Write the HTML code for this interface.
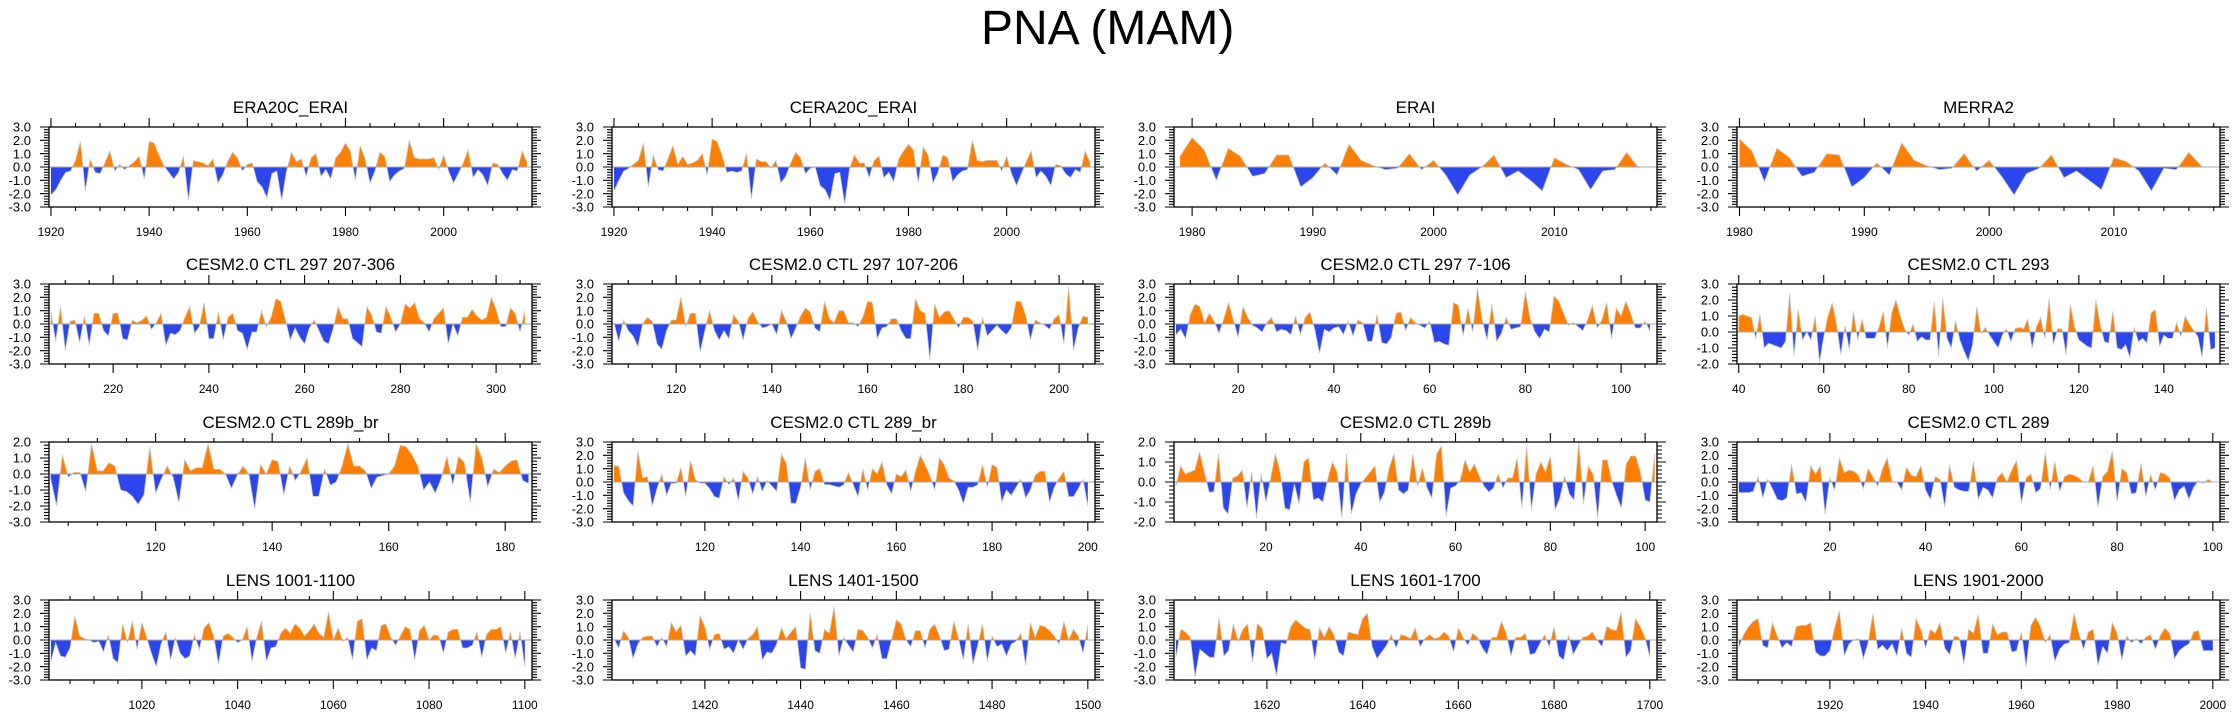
<!DOCTYPE html>
<html><head><meta charset="utf-8"><title>PNA (MAM)</title>
<style>
html,body{margin:0;padding:0;background:#fff;}
svg{display:block;font-family:"Liberation Sans",Arial,sans-serif;}
</style></head>
<body>
<svg id="chart" width="2238" height="718" viewBox="0 0 2238 718" xmlns="http://www.w3.org/2000/svg">
<rect width="2238" height="718" fill="#fff"/>
<text x="981" y="44" font-size="48" fill="#000">PNA (MAM)</text>
</svg>
<script>
const era20c=[-2.1,-1.7,-1.0,-0.4,-0.3,0.5,1.9,-1.8,0.6,-0.4,-0.5,0.3,1.2,-0.3,0.2,-0.2,0.1,0.4,0.8,-0.9,1.9,1.8,0.9,0.1,-0.4,-0.9,-0.4,0.8,-2.5,0.5,0.4,0.3,0.1,0.6,-1.2,-0.6,0.4,1.1,0.7,-0.3,0.2,0.3,-1.1,-1.5,-2.3,-0.5,-0.3,-2.5,-0.3,1.1,0.4,0.6,-0.7,0.7,1.0,-0.7,-0.2,-0.9,0.7,1.1,1.8,1.2,-1.0,1.6,0.6,-1.2,-0.3,1.1,0.8,-1.1,-0.6,-0.3,-0.1,2.0,0.7,0.6,0.6,0.6,0.7,-0.2,0.9,-0.3,-1.2,-0.5,0.3,1.3,-0.8,-0.2,-0.6,-1.4,0.3,0.2,-0.5,-1.0,-0.2,-0.3,1.2,0.3];
const cera20c=[-1.8,-1.0,-0.3,-0.1,0.2,0.5,1.8,-1.5,0.9,-0.2,-0.3,0.6,1.6,0.2,0.8,0.2,0.3,0.5,1.0,-0.6,2.1,1.9,0.9,-0.4,-0.3,-0.4,-0.3,1.0,-2.4,0.6,0.4,0.4,-0.1,0.5,-1.2,-0.7,0.3,1.1,0.7,-0.5,-0.1,0.0,-1.4,-1.7,-2.5,-0.5,-0.4,-2.8,-0.1,0.9,0.3,0.3,-0.8,0.5,0.8,-0.8,-0.4,-1.1,0.6,1.2,1.7,1.3,-1.2,1.5,0.9,-1.2,-0.4,0.9,0.7,-1.1,-0.6,-0.3,-0.2,2.0,0.5,0.4,0.5,0.5,0.5,-0.3,0.8,-0.5,-1.4,-0.5,0.4,1.2,-0.8,-0.3,-0.7,-1.4,0.2,0.1,-0.5,-0.8,-0.2,-0.4,1.2,0.3];
const erai=[0.8,2.2,1.3,-1.0,1.4,0.8,-0.7,-0.5,0.9,0.9,-1.5,-0.8,0.3,-0.6,1.7,0.5,0.1,-0.2,-0.1,1.0,-0.2,0.5,-0.6,-2.1,-0.6,0.0,0.9,-0.8,-0.3,-1.0,-1.8,0.7,0.2,-0.2,-1.7,-0.3,-0.2,1.1,-0.1];
const merra2=[2.1,1.2,-1.1,1.4,0.7,-0.7,-0.4,1.0,0.9,-1.5,-0.8,0.3,-0.6,1.8,0.5,0.1,-0.2,-0.1,1.0,-0.3,0.5,-0.7,-2.1,-0.5,-0.1,0.9,-0.8,-0.3,-1.0,-1.7,0.7,0.4,-0.3,-1.8,-0.1,-0.2,1.1,0.1];
const ctl297a=[0.9,-1.3,1.3,-2.0,0.2,0.3,-1.4,0.6,-1.6,0.8,0.8,-0.5,-0.9,0.8,0.8,-1.1,-1.2,0.3,0.1,0.3,0.6,-0.4,0.1,0.8,-1.6,-0.7,-0.8,-0.5,0.5,1.3,-0.7,-0.2,1.6,-1.1,-1.1,0.9,-1.2,0.5,0.8,-0.5,-0.7,-1.9,-0.6,-0.6,1.0,-0.2,0.5,1.9,1.7,0.3,-1.2,-0.3,-1.0,-1.5,-0.3,0.3,-0.5,-1.3,-1.5,-0.3,1.3,0.4,0.4,-1.1,-1.4,-1.7,1.3,0.7,-0.6,-0.7,1.3,0.5,-0.6,0.0,1.5,1.2,1.6,0.4,0.1,-0.6,0.4,0.8,1.2,-1.5,0.0,-0.9,0.5,0.5,1.1,0.6,0.3,0.5,2.0,1.1,-0.2,-0.2,1.2,0.8,-0.6,1.0];
const ctl297b=[0.1,-1.3,0.3,-0.5,-0.9,-1.7,0.0,0.5,0.2,-1.5,-1.9,-0.5,0.3,0.3,2.0,-0.2,0.8,0.8,-2.1,-0.5,1.0,-0.5,-1.2,-0.5,-1.1,0.7,0.2,-1.2,0.4,0.9,0.2,-0.3,-0.2,0.0,-0.8,1.0,0.2,-1.1,-0.3,0.6,1.2,0.9,-0.3,-0.6,1.7,0.4,0.1,1.0,1.0,0.1,0.1,-0.2,0.5,1.7,1.6,-1.1,-0.3,-0.2,0.4,0.4,-0.5,-1.1,-1.1,1.9,1.0,0.8,-2.7,1.5,0.5,0.9,1.0,0.4,-0.3,0.5,0.5,0.2,-2.0,0.5,-0.9,-0.5,-0.1,-0.5,-0.8,-0.3,1.7,1.7,0.7,-1.2,0.3,0.1,-0.1,-0.4,0.4,0.7,-1.5,2.8,-2.0,-0.3,0.6,0.5];
const ctl297c=[-0.8,-0.4,-1.1,0.7,1.5,1.3,0.1,0.8,0.2,-0.7,0.4,1.6,0.3,-1.0,1.3,0.5,-0.1,-0.3,-0.6,0.1,0.5,-0.6,-0.4,-0.5,-0.8,0.6,-0.8,0.5,0.9,-0.4,-2.2,-0.4,-0.6,-0.3,-0.2,-0.8,0.2,-0.9,0.3,0.1,-1.3,-1.3,0.7,-1.4,-1.5,-1.0,0.8,0.9,-0.5,0.5,0.1,-0.1,-0.3,0.2,-1.4,-1.3,-1.5,-1.6,1.6,1.4,-0.9,1.2,-0.6,2.7,0.3,-1.2,1.5,-1.3,-0.7,0.5,-0.4,-0.3,-0.2,2.4,0.4,-0.6,-1.1,-0.4,-0.6,2.1,1.7,0.8,-0.1,0.1,-0.2,-0.5,0.3,1.4,-0.3,0.3,1.6,-1.1,1.2,0.6,1.7,0.8,-0.3,-0.3,0.2,-0.5];
const ctl293=[1.0,1.1,1.0,0.9,-0.4,1.1,-1.0,-0.7,-0.8,-0.9,-1.0,-0.6,2.4,-1.5,1.4,-0.5,0.0,-0.5,1.0,-1.9,-0.3,1.0,1.8,0.5,-1.4,0.4,-1.1,1.3,-0.5,0.8,-0.4,-0.4,-0.4,0.3,1.3,-1.0,1.2,2.0,1.0,0.2,-0.2,0.5,-0.6,-0.3,-0.5,-0.5,1.9,-1.5,2.1,-0.4,-1.0,0.7,-0.5,-1.2,-1.8,-0.8,1.6,-0.1,0.3,-0.2,-0.6,-1.0,-0.2,0.2,-0.6,0.2,0.3,0.2,0.8,-1.0,0.3,0.9,-0.4,2.1,-0.8,0.2,0.2,-1.4,1.7,0.3,-0.5,-0.7,-0.9,-1.0,2.0,0.5,-0.6,-0.7,1.3,-1.0,-1.1,-0.8,-1.6,0.3,-0.6,-0.4,-0.7,1.2,1.4,-0.9,-0.2,-0.4,-0.4,0.6,-0.3,1.0,0.5,0.1,-0.3,-1.6,1.5,-1.1,-1.0];
const ctl289bbr=[-0.3,-2.0,1.2,-0.2,0.1,0.1,-1.1,1.9,0.2,0.2,0.7,0.5,-1.0,-1.1,-1.4,-1.9,-1.3,1.7,-1.2,-0.3,0.5,-0.2,-1.8,0.9,0.2,0.4,0.4,1.9,0.3,0.3,0.0,-0.9,-0.1,0.5,0.0,-2.2,0.6,0.0,0.9,0.8,-1.3,0.5,-0.4,0.2,1.0,-1.4,-1.4,0.3,-0.7,-0.5,0.5,1.9,0.5,0.5,0.2,-0.9,-0.2,-0.1,0.0,0.5,1.8,1.7,1.2,0.5,-1.0,-0.5,-1.2,-0.3,1.1,-0.7,1.1,0.7,-1.8,1.9,1.0,-0.8,0.3,0.1,0.5,0.8,0.9,-0.4,-0.6];
const ctl289br=[1.2,1.2,-0.8,-1.4,-1.8,2.3,0.3,0.4,-1.8,-0.5,0.6,-1.0,-0.1,-0.1,1.1,-1.1,1.6,0.2,-0.1,-0.1,-0.5,-1.1,-1.2,0.4,-0.2,0.3,-1.4,0.8,0.3,-0.9,0.4,-0.7,0.1,-0.3,-0.7,2.1,1.4,-1.6,-1.6,-0.4,1.8,-0.6,0.8,1.0,-0.2,-0.2,-0.3,-0.4,-0.2,0.7,-0.2,-1.1,1.0,-0.6,1.0,0.6,1.5,-0.2,-0.9,0.6,0.4,0.9,-0.7,0.8,2.0,1.3,0.5,-0.6,1.8,1.3,0.3,0.1,-0.6,-1.6,-0.4,-0.4,-0.2,1.3,-0.4,1.3,1.1,-1.5,-0.6,-1.0,-0.4,0.2,-1.2,-0.6,0.5,0.8,0.8,-1.5,-0.4,0.3,0.8,-1.1,-1.1,-0.5,0.2,-1.8];
const ctl289b=[-0.2,0.8,0.4,0.5,0.6,1.5,0.5,-0.5,-0.5,1.4,-1.3,-1.6,0.2,0.3,0.6,-1.3,0.5,-1.8,0.4,-1.0,0.2,1.4,0.5,-1.3,-1.4,-0.1,-1.1,1.0,1.2,-0.9,-0.8,-1.0,0.1,1.0,0.5,-1.8,1.4,-1.6,-0.6,-0.1,0.2,0.5,0.8,-1.0,-0.5,0.7,1.4,-0.4,-0.6,-0.4,1.4,-0.2,0.7,-0.3,-0.8,1.4,1.8,-1.7,-0.3,-0.2,0.1,1.1,0.5,0.9,0.3,-0.2,-0.5,-0.3,0.4,-0.3,0.2,0.2,1.2,-1.3,1.8,-1.4,0.4,1.0,0.5,1.3,-1.4,-0.8,0.3,-0.6,-0.9,2.0,-1.1,0.8,0.4,-1.8,1.1,1.1,0.0,-0.7,-1.3,0.9,1.3,1.3,0.5,-0.9,-1.0,1.4];
const ctl289=[-0.8,-0.8,-0.8,-0.7,0.4,-1.2,0.2,-0.5,-1.3,-1.4,-1.2,1.3,-0.9,-0.8,-1.5,1.2,0.6,1.2,-2.4,0.3,-0.6,1.8,0.7,0.9,0.8,0.5,-0.5,1.0,0.4,-0.3,1.0,1.8,0.0,0.0,-0.6,1.1,0.5,0.4,1.2,-0.6,-1.3,0.4,0.2,-1.9,1.3,-0.4,-0.6,-0.7,-0.7,1.5,-1.3,-0.4,-0.6,-1.2,0.3,0.7,0.0,0.9,1.6,-1.6,0.3,0.6,-0.8,-0.5,2.2,-0.6,1.5,-0.7,0.4,0.6,0.5,0.3,0.0,0.0,1.2,-1.9,0.4,0.8,2.3,-1.5,1.0,0.7,-0.9,-0.8,1.4,-1.1,0.6,-0.6,0.7,0.6,0.3,-1.4,-0.6,-0.3,-1.3,-0.4,0.1,-0.1,0.2,0.0];
const lens1001=[-1.6,-0.2,-1.2,-1.3,-0.6,1.8,0.3,0.1,0.0,-0.2,-0.1,-0.9,0.4,-1.4,-1.7,1.2,-0.2,1.4,-0.7,1.3,0.2,-1.0,-2.0,-0.3,0.6,-1.5,0.2,-1.0,-1.4,-1.2,0.4,-0.7,0.9,1.3,0.3,-1.8,0.3,0.5,0.2,-0.2,0.0,1.0,-1.6,0.2,1.4,-1.6,-0.6,-0.5,0.5,0.9,0.5,1.2,0.9,0.3,0.7,1.2,0.5,0.2,2.1,0.0,0.9,-0.1,0.2,-1.5,1.4,1.6,-1.5,-0.6,-0.8,1.1,1.2,0.2,-0.4,0.3,1.0,0.8,-1.5,0.7,1.1,0.0,0.4,0.3,-1.0,0.6,0.8,0.8,-0.6,-0.6,-0.4,0.6,-1.3,0.4,0.8,0.8,1.0,-1.0,0.6,-1.4,0.6,-2.0];
const lens1401=[0.1,-0.6,0.7,0.2,-1.4,-0.3,0.2,0.3,0.3,-0.5,0.2,-0.5,1.3,0.6,1.1,-1.2,-0.8,-1.2,1.8,1.0,-0.7,0.4,0.5,-0.7,-0.5,-1.0,0.0,-0.7,0.1,0.4,1.0,-1.5,-0.9,-1.0,-0.3,0.9,0.1,0.6,1.0,-2.1,-2.2,2.0,-0.8,-1.0,0.8,0.5,2.5,-1.2,0.2,-0.4,-0.9,0.8,0.7,0.2,-0.6,0.4,-1.4,-1.4,0.0,1.5,1.2,0.0,-0.5,0.7,0.7,-0.6,0.8,1.2,0.3,-0.8,-0.7,1.4,0.1,-1.5,1.2,-1.8,-0.4,1.2,-1.6,0.3,-0.5,-0.3,-1.2,-0.3,-0.1,0.5,-1.9,1.3,0.2,1.1,1.0,0.7,0.3,-0.3,1.4,0.0,0.8,0.3,-1.0,1.1];
const lens1601=[-1.3,0.8,0.6,0.2,-2.8,-0.7,-1.0,-1.3,-1.3,1.7,-1.2,-0.8,1.2,-0.1,0.8,1.2,-1.7,1.2,0.9,-1.4,-1.0,-2.7,-0.2,-0.3,1.0,1.5,1.2,0.9,0.8,-1.5,0.9,0.2,1.0,0.4,-0.9,-1.2,0.6,0.5,0.4,1.6,2.0,-0.5,-1.4,-0.9,-0.4,0.4,-0.6,0.4,0.3,0.1,0.9,-0.5,0.1,0.4,0.1,0.2,0.6,0.3,-0.9,0.9,0.2,-0.4,0.5,0.2,-0.6,-1.1,0.2,0.2,1.4,0.5,-1.2,0.2,0.2,0.5,-1.1,-1.0,-0.3,0.4,-0.5,1.0,-1.2,-1.5,0.4,-1.1,-0.4,0.2,0.3,0.6,0.0,-0.5,1.0,0.8,0.7,2.1,-1.3,-0.8,1.6,1.0,0.2,-1.3];
const lens1901=[-0.5,0.4,1.0,1.4,1.6,-0.4,-0.6,1.3,0.3,-0.6,-0.2,-0.5,1.0,1.1,1.1,1.3,-0.9,-1.2,-1.2,-0.8,0.9,2.2,-1.2,-0.3,0.0,0.1,-1.4,-0.2,2.0,-0.7,-0.4,-0.8,-0.3,-1.2,0.9,-1.0,-1.3,1.6,0.8,-0.6,0.8,0.5,1.3,-0.6,-1.1,0.3,0.2,-1.8,0.8,0.5,1.9,-1.0,-1.0,1.2,0.4,0.6,0.6,-0.9,-0.8,0.6,-2.0,1.1,1.7,1.0,-0.2,0.4,-1.6,-0.7,-0.3,-0.2,2.0,0.5,-0.7,0.6,0.8,-1.9,-0.5,-1.0,1.3,0.5,-1.5,0.3,-0.2,0.1,-0.3,0.2,0.4,-0.7,0.3,0.9,0.5,-1.4,-0.8,-0.5,-0.3,0.6,0.7,-0.8,-0.8,-0.8];

const yTicksStd=[-3,-2,-1,0,1,2,3];
const yTicks289bbr=[-3,-2,-1,0,1,2];
const yTicks289b=[-2,-1,0,1,2];
const yTicks293=[-2,-1,0,1,2,3];

const colLeft=[49,612,1174,1737];
const rowTop=[127,284,442,600];
const PW=483, PH=80;

const panels=[
 {name:'era20c-erai',title:'ERA20C_ERAI',c:0,r:0,vals:era20c,x0:1920,xmin:1919.6,xmax:2018.0,yt:yTicksStd,maj:20,mn:5},
 {name:'cera20c-erai',title:'CERA20C_ERAI',c:1,r:0,vals:cera20c,x0:1920,xmin:1919.6,xmax:2018.0,yt:yTicksStd,maj:20,mn:5},
 {name:'erai',title:'ERAI',c:2,r:0,vals:erai,x0:1979,xmin:1978.5,xmax:2018.5,yt:yTicksStd,maj:10,mn:2},
 {name:'merra2',title:'MERRA2',c:3,r:0,vals:merra2,x0:1980,xmin:1979.8,xmax:2018.5,yt:yTicksStd,maj:10,mn:2},
 {name:'ctl-297-207-306',title:'CESM2.0 CTL 297 207-306',c:0,r:1,vals:ctl297a,x0:207,xmin:206.6,xmax:307.5,yt:yTicksStd,maj:20,mn:5},
 {name:'ctl-297-107-206',title:'CESM2.0 CTL 297 107-206',c:1,r:1,vals:ctl297b,x0:107,xmin:106.6,xmax:207.5,yt:yTicksStd,maj:20,mn:5},
 {name:'ctl-297-7-106',title:'CESM2.0 CTL 297 7-106',c:2,r:1,vals:ctl297c,x0:7,xmin:6.6,xmax:107.5,yt:yTicksStd,maj:20,mn:5},
 {name:'ctl-293',title:'CESM2.0 CTL 293',c:3,r:1,vals:ctl293,x0:40,xmin:39.6,xmax:153.2,yt:yTicks293,maj:20,mn:5},
 {name:'ctl-289b-br',title:'CESM2.0 CTL 289b_br',c:0,r:2,vals:ctl289bbr,x0:102,xmin:101.7,xmax:184.6,yt:yTicks289bbr,maj:20,mn:5},
 {name:'ctl-289-br',title:'CESM2.0 CTL 289_br',c:1,r:2,vals:ctl289br,x0:101,xmin:100.6,xmax:201.5,yt:yTicksStd,maj:20,mn:5},
 {name:'ctl-289b',title:'CESM2.0 CTL 289b',c:2,r:2,vals:ctl289b,x0:1,xmin:0.6,xmax:102.5,yt:yTicks289b,maj:20,mn:5},
 {name:'ctl-289',title:'CESM2.0 CTL 289',c:3,r:2,vals:ctl289,x0:1,xmin:0.6,xmax:101.5,yt:yTicksStd,maj:20,mn:5},
 {name:'lens-1001-1100',title:'LENS 1001-1100',c:0,r:3,vals:lens1001,x0:1001,xmin:1000.6,xmax:1101.5,yt:yTicksStd,maj:20,mn:5},
 {name:'lens-1401-1500',title:'LENS 1401-1500',c:1,r:3,vals:lens1401,x0:1401,xmin:1400.6,xmax:1501.5,yt:yTicksStd,maj:20,mn:5},
 {name:'lens-1601-1700',title:'LENS 1601-1700',c:2,r:3,vals:lens1601,x0:1601,xmin:1600.6,xmax:1701.5,yt:yTicksStd,maj:20,mn:5},
 {name:'lens-1901-2000',title:'LENS 1901-2000',c:3,r:3,vals:lens1901,x0:1901,xmin:1900.6,xmax:2001.5,yt:yTicksStd,maj:20,mn:5}
];

const NS='http://www.w3.org/2000/svg';
const svg=document.getElementById('chart');
function mk(tag,attrs,parent){
  const e=document.createElementNS(NS,tag);
  for(const k in attrs) e.setAttribute(k,attrs[k]);
  parent.appendChild(e);
  return e;
}

panels.forEach((p,pi)=>{
  const L=colLeft[p.c], T=rowTop[p.r], W=PW, H=PH;
  const ymin=p.yt[0], ymax=p.yt[p.yt.length-1];
  const sx=v=>L+(v-p.xmin)/(p.xmax-p.xmin)*W;
  const sy=v=>T+(ymax-v)/(ymax-ymin)*H;
  const g=mk('g',{},svg);
  
  

  const y0=sy(0);
  const defs=mk('defs',{},g);
  const cpU=mk('clipPath',{id:'cu'+pi},defs);
  mk('rect',{x:L,y:T,width:W,height:y0-T},cpU);
  const cpD=mk('clipPath',{id:'cd'+pi},defs);
  mk('rect',{x:L,y:y0,width:W,height:T+H-y0},cpD);

  const pts=p.vals.map((v,i)=>sx(p.x0+i).toFixed(2)+','+sy(v).toFixed(2));
  const xs=sx(p.x0), xe=sx(p.x0+p.vals.length-1);
  const poly=xs.toFixed(2)+','+y0+' '+pts.join(' ')+' '+xe.toFixed(2)+','+y0;

  const pos=mk('polygon',{points:poly,fill:'#ff8000','clip-path':'url(#cu'+pi+')'},g);
  
  
  const neg=mk('polygon',{points:poly,fill:'#2b46ec','clip-path':'url(#cd'+pi+')'},g);
  
  
  const line=mk('polyline',{points:pts.join(' '),fill:'none',stroke:'#c8c8c8','stroke-width':0.8},g);
  
  

  const zl=mk('line',{x1:L,x2:L+W,y1:y0,y2:y0,stroke:'#a8a8a8','stroke-width':1},g);
  
  

  const box=mk('rect',{x:L,y:T,width:W,height:H,fill:'none',stroke:'#000','stroke-width':1.3},g);
  
  

  let tk='';
  for(let v=ymin; v<=ymax+1e-6; v=Math.round((v+0.2)*10)/10){
    const y=sy(v).toFixed(2);
    const major=Math.abs(v-Math.round(v))<1e-6;
    const len=major?9:5;
    tk+=`M${L},${y}H${L-len}M${L+W},${y}H${L+W+len}`;
  }
  const firstMin=Math.ceil(p.xmin/p.mn)*p.mn;
  for(let v=firstMin; v<=p.xmax; v+=p.mn){
    const x=sx(v).toFixed(2);
    const major=(v%p.maj)===0;
    const len=major?9:4;
    tk+=`M${x},${T}V${T-len}M${x},${T+H}V${T+H+len}`;
  }
  const ticks=mk('path',{d:tk,stroke:'#000','stroke-width':1.1,fill:'none'},g);
  
  

  p.yt.forEach(v=>{
    const t=mk('text',{x:L-18,y:(sy(v)+4.6).toFixed(2),'font-size':13,'text-anchor':'end',fill:'#000'},g);
    t.textContent=v.toFixed(1);
    
    
  });
  const firstMaj=Math.ceil(p.xmin/p.maj)*p.maj;
  for(let v=firstMaj; v<=p.xmax; v+=p.maj){
    const t=mk('text',{x:sx(v).toFixed(2),y:T+H+29,'font-size':12,'text-anchor':'middle',fill:'#000'},g);
    t.textContent=String(v);
    
    
  }
  const tt=mk('text',{x:L+W/2,y:T-14,'font-size':17,'text-anchor':'middle',fill:'#000'},g);
  tt.textContent=p.title;
  
  
});
</script>
</body></html>
